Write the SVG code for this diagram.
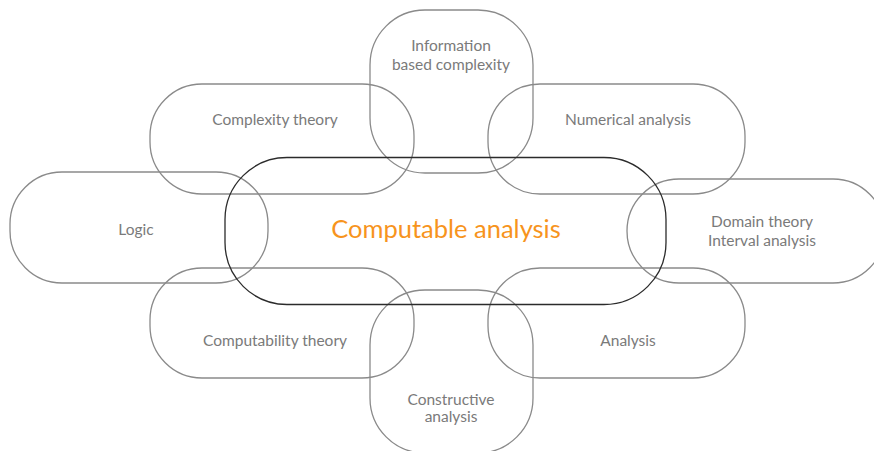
<svg xmlns="http://www.w3.org/2000/svg" width="874" height="451" viewBox="0 0 874 451">
<style>
.b{fill:none;stroke:#8a8a8a;stroke-width:1.3}
.c{fill:none;stroke:#2b2b2b;stroke-width:1.3}
.t{font-family:Lato,"Open Sans","DejaVu Sans",sans-serif;font-size:15.5px;fill:#7a7a7a;text-anchor:middle}
.m{font-family:Lato,"Open Sans","DejaVu Sans",sans-serif;font-size:25.5px;fill:#f7941d;text-anchor:middle}
</style>
<rect width="874" height="451" fill="#fff"/>
<g id="info"><rect class="b" x="370" y="10" width="163" height="163" rx="55"/><text class="t" x="451" y="51">Information</text><text class="t" x="451" y="70">based complexity</text></g>
<g id="complexity"><rect class="b" x="150" y="84" width="264" height="110" rx="52"/><text class="t" x="275" y="125">Complexity theory</text></g>
<g id="numerical"><rect class="b" x="488" y="84" width="257" height="110" rx="52"/><text class="t" x="628" y="125">Numerical analysis</text></g>
<g id="logic"><rect class="b" x="10" y="172" width="258" height="111" rx="52"/><text class="t" x="136" y="235">Logic</text></g>
<g id="domain"><rect class="b" x="627" y="179" width="258" height="104" rx="52"/><text class="t" x="762" y="227">Domain theory</text><text class="t" x="762" y="246">Interval analysis</text></g>
<g id="computability"><rect class="b" x="150" y="268" width="264" height="110" rx="52"/><text class="t" x="275" y="346">Computability theory</text></g>
<g id="analysis"><rect class="b" x="488" y="268" width="257" height="110" rx="52"/><text class="t" x="628" y="346">Analysis</text></g>
<g id="constructive"><rect class="b" x="370" y="290" width="163" height="163" rx="55"/><text class="t" x="451" y="405">Constructive</text><text class="t" x="451" y="422">analysis</text></g>
<g id="computable"><rect class="c" x="225" y="157.5" width="441" height="147" rx="62"/><text class="m" x="446" y="238">Computable analysis</text></g>
<g id="connectors"></g>
</svg>
